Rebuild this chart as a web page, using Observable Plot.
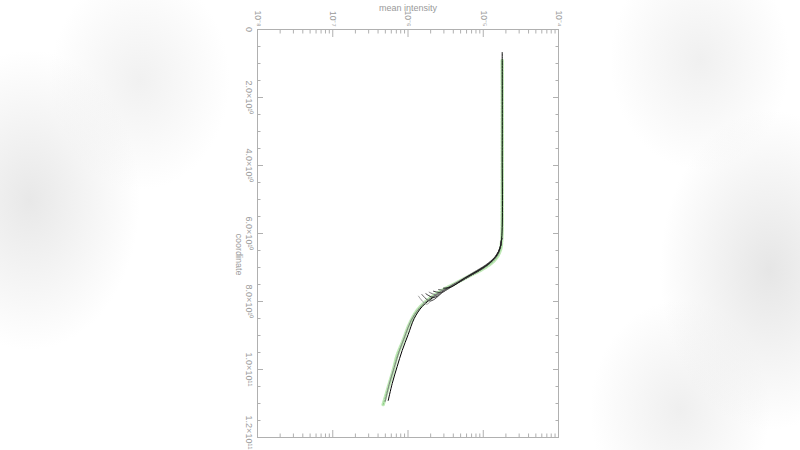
<!DOCTYPE html>
<html><head><meta charset="utf-8">
<script src="https://cdn.jsdelivr.net/npm/d3@7"></script>
<script src="https://cdn.jsdelivr.net/npm/@observablehq/plot@0.6"></script>
<style>
html,body{margin:0;padding:0;width:800px;height:450px;overflow:hidden;}
body{background:
  radial-gradient(ellipse 110px 150px at 30px 200px, #e8e8e8, rgba(255,255,255,0) 100%),
  radial-gradient(ellipse 90px 110px at 140px 80px, #f1f1f1, rgba(255,255,255,0) 100%),
  radial-gradient(ellipse 110px 160px at 770px 270px, #e6e6e6, rgba(255,255,255,0) 100%),
  radial-gradient(ellipse 90px 110px at 700px 60px, #f0f0f0, rgba(255,255,255,0) 100%),
  radial-gradient(ellipse 90px 110px at 680px 410px, #efefef, rgba(255,255,255,0) 100%),
  #ffffff;}
</style></head><body><div id="chart"></div>
<script>
// shared vertical (upper) part of the lines
const upperCoord = [0.676e10, 3.559e10, 6.147e10];
const upperIntensity = [1.786e-5, 1.786e-5, 1.758e-5];

// reference (green) curve
const greenCoord = [0.912e10, 5.029e10, 6.206e10, 6.500e10, 6.765e10, 7.000e10, 7.235e10, 7.470e10, 7.705e10, 7.970e10, 8.264e10, 8.676e10, 9.147e10, 9.588e10, 10.029e10, 10.529e10, 11.029e10];
const greenIntensity = [1.786e-5, 1.786e-5, 1.758e-5, 1.679e-5, 1.442e-5, 1.061e-5, 6.71e-6, 4.24e-6, 2.68e-6, 1.80e-6, 1.325e-6, 1.04e-6, 8.63e-7, 7.18e-7, 6.36e-7, 5.46e-7, 4.68e-7];

// lower parts of the black / gray lines
const seriesNames = ["L0", "L1", "F1", "F2", "F3", "F4", "F5", "F6", "F7"];
const seriesColors = ["#000000", "#808080", "#9a9a9a", "#555555", "#2a2a2a", "#7a7a7a", "#3a3a3a", "#666666", "#111111"];
const lowerCoord = [
  [6.412e10, 6.677e10, 6.912e10, 7.147e10, 7.382e10, 7.617e10, 7.852e10, 8.146e10, 8.499e10, 8.970e10, 9.441e10, 9.911e10, 10.411e10, 10.911e10],
  [6.441e10, 6.677e10, 6.912e10, 7.147e10, 7.412e10, 7.647e10, 7.911e10, 8.205e10, 8.558e10, 8.999e10, 9.470e10, 9.941e10, 10.441e10, 10.940e10],
  [6.412e10, 6.677e10, 6.912e10, 7.147e10, 7.412e10, 7.647e10, 7.867e10, 8.079e10, 7.843e10],
  [6.412e10, 6.647e10, 6.882e10, 7.117e10, 7.382e10, 7.617e10, 7.985e10, 7.794e10],
  [6.412e10, 6.647e10, 6.882e10, 7.117e10, 7.382e10, 7.632e10, 7.881e10, 7.773e10],
  [6.412e10, 6.618e10, 6.853e10, 7.088e10, 7.353e10, 7.602e10, 7.808e10, 7.726e10],
  [6.412e10, 6.647e10, 6.882e10, 7.117e10, 7.382e10, 7.602e10, 7.735e10, 7.697e10],
  [6.412e10, 6.618e10, 6.853e10, 7.088e10, 7.353e10, 7.500e10, 7.661e10, 7.647e10],
  [6.412e10, 6.618e10, 6.853e10, 7.088e10, 7.323e10, 7.573e10, 7.609e10]
];
const lowerIntensity = [
  [1.679e-5, 1.486e-5, 1.164e-5, 8.06e-6, 5.09e-6, 3.32e-6, 2.23e-6, 1.545e-6, 1.21e-6, 1.006e-6, 8.37e-7, 7.18e-7, 6.17e-7, 5.46e-7],
  [1.654e-5, 1.442e-5, 1.094e-5, 7.35e-6, 4.65e-6, 3.03e-6, 1.97e-6, 1.41e-6, 1.10e-6, 9.18e-7, 7.64e-7, 6.56e-7, 5.62e-7, 4.98e-7],
  [1.679e-5, 1.486e-5, 1.164e-5, 7.82e-6, 4.94e-6, 3.12e-6, 2.23e-6, 1.762e-6, 1.38e-6],
  [1.679e-5, 1.532e-5, 1.20e-5, 8.31e-6, 5.25e-6, 3.32e-6, 1.97e-6, 1.53e-6],
  [1.679e-5, 1.486e-5, 1.164e-5, 8.06e-6, 5.09e-6, 3.22e-6, 2.23e-6, 1.73e-6],
  [1.679e-5, 1.532e-5, 1.237e-5, 8.57e-6, 5.41e-6, 3.42e-6, 2.48e-6, 1.91e-6],
  [1.679e-5, 1.486e-5, 1.20e-5, 8.31e-6, 5.25e-6, 3.53e-6, 2.80e-6, 2.18e-6],
  [1.679e-5, 1.532e-5, 1.237e-5, 8.57e-6, 5.41e-6, 4.11e-6, 3.22e-6, 2.54e-6],
  [1.679e-5, 1.532e-5, 1.237e-5, 8.57e-6, 5.58e-6, 3.75e-6, 2.96e-6]
];

// axis ticks
const xDecades = [1e-8, 1e-7, 1e-6, 1e-5, 1e-4];
const xMinor = xDecades.slice(0, 4).flatMap(d => [2, 3, 4, 5, 6, 7, 8, 9].map(k => k * d));
const yMajor = [0, 2e10, 4e10, 6e10, 8e10, 1e11, 1.2e11];
const yMinor = d3.range(0, 1.2e11 + 1, 5e9);

const supMap = {"-": "\u207B", "0": "\u2070", "1": "\u00B9", "2": "\u00B2", "3": "\u00B3", "4": "\u2074", "5": "\u2075", "6": "\u2076", "7": "\u2077", "8": "\u2078", "9": "\u2079"};
const sup = n => String(n).split("").map(c => supMap[c]).join("");
const xFmt = d => "10" + sup(Math.round(Math.log10(d)));
const yFmt = d => {
  if (d === 0) return "0";
  const e = Math.floor(Math.log10(d) + 1e-9);
  return (d / 10 ** e).toFixed(1) + "\u00D710" + sup(e);
};

const green = greenCoord.map((c, i) => ({coord: c, intensity: greenIntensity[i]}));
// the first line carries the full vertical part; the others join it at the bend
const lines = seriesNames.flatMap((s, k) => [
  ...(k === 0 ? upperCoord.map((c, i) => ({series: s, coord: c, intensity: upperIntensity[i]}))
              : [{series: s, coord: upperCoord[upperCoord.length - 1], intensity: upperIntensity[upperIntensity.length - 1]}]),
  ...lowerCoord[k].map((c, i) => ({series: s, coord: c, intensity: lowerIntensity[k][i]}))
]);

const axisCol = "#b0b0b0";
const textCol = "#9a9a9a";
const blank = () => "";
const yLast = yMajor.slice(-1);
const yRest = yMajor.slice(0, -1);

const chart = Plot.plot({
  width: 800, height: 450,
  marginLeft: 257, marginRight: 242, marginTop: 29, marginBottom: 13,
  style: {background: "transparent", overflow: "visible", fontFamily: "'Liberation Sans', Arial, sans-serif", fontSize: "9px"},
  x: {type: "log", domain: [1e-8, 1e-4], axis: null},
  y: {domain: [0, 1.2e11], reverse: true, axis: null},
  color: {domain: seriesNames, range: seriesColors},
  marks: [
    Plot.frame({stroke: axisCol}),
    Plot.axisX(xDecades, {anchor: "top", tickSize: -7, tickFormat: blank, label: null, stroke: axisCol}),
    Plot.axisX(xMinor, {anchor: "top", tickSize: -3.5, tickFormat: blank, label: null, stroke: axisCol}),
    Plot.axisX(xDecades, {anchor: "bottom", tickSize: -7, tickFormat: blank, label: null, stroke: axisCol}),
    Plot.axisX(xMinor, {anchor: "bottom", tickSize: -3.5, tickFormat: blank, label: null, stroke: axisCol}),
    Plot.axisX(xDecades, {anchor: "top", tickSize: 0, tickPadding: 3, tickRotate: 90, tickFormat: xFmt, label: null, fill: textCol, fontSize: 8.5}),
    Plot.axisY(yMajor, {anchor: "left", tickSize: -6, tickFormat: blank, label: null, stroke: axisCol}),
    Plot.axisY(yMinor, {anchor: "left", tickSize: -3.5, tickFormat: blank, label: null, stroke: axisCol}),
    Plot.axisY(yMajor, {anchor: "right", tickSize: -6, tickFormat: blank, label: null, stroke: axisCol}),
    Plot.axisY(yMinor, {anchor: "right", tickSize: -3.5, tickFormat: blank, label: null, stroke: axisCol}),
    Plot.axisY(yRest, {anchor: "left", tickSize: 0, tickPadding: 5, tickRotate: 90, tickFormat: yFmt, label: null, fill: textCol}),
    Plot.axisY(yLast, {anchor: "left", tickSize: 0, tickPadding: 5, tickRotate: 90, tickFormat: yFmt, label: null, fill: textCol, dy: -5}),
    Plot.text(["mean intensity"], {frameAnchor: "top", dy: -25, fill: textCol, fontSize: 9}),
    Plot.text(["coordinate"], {frameAnchor: "left", dx: -19, rotate: 90, fill: textCol, fontSize: 9}),
    Plot.line(green, {x: "intensity", y: "coord", curve: "catmull-rom", stroke: "#bfe8b6", strokeWidth: 3.5, strokeDasharray: "2,1.2"}),
    Plot.line(green, {x: "intensity", y: "coord", curve: "catmull-rom", stroke: "#7cc47a", strokeWidth: 0.8, strokeDasharray: "1.5,1.5"}),
    Plot.line(lines, {x: "intensity", y: "coord", z: "series", stroke: "series", curve: "catmull-rom", strokeWidth: 1})
  ]
});
document.getElementById("chart").appendChild(chart);
</script></body></html>
